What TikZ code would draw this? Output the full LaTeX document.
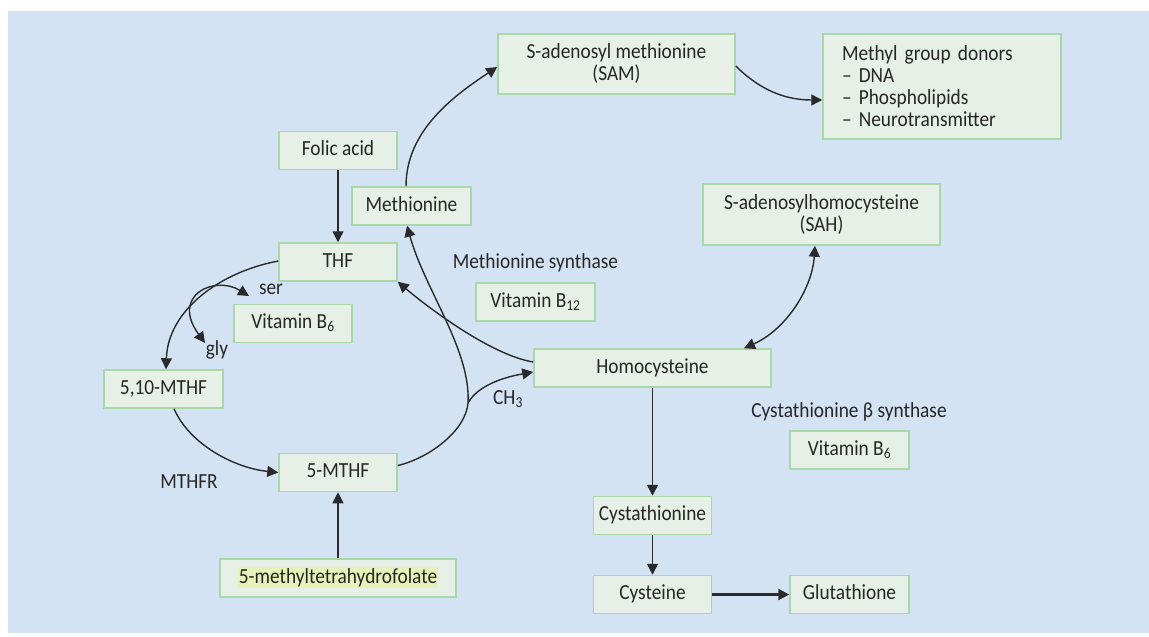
\documentclass[tikz,border=0pt]{standalone}
\usepackage{fontspec}
\setmainfont{Carlito}[FakeStretch=0.9]
\usetikzlibrary{arrows.meta}
\definecolor{bgblue}{HTML}{D4E3F3}
\definecolor{boxfill}{HTML}{E6F0E6}
\definecolor{boxline}{HTML}{A8D8A8}
\definecolor{txt}{HTML}{262626}
\definecolor{hlyellow}{HTML}{E8F2B8}
\definecolor{arrcol}{HTML}{2A2A2A}
\begin{document}
\begin{tikzpicture}[x=1pt,y=-1pt,
  font=\fontsize{21.5}{22}\selectfont,
  box/.style={draw=boxline, line width=1.5pt, fill=boxfill, inner sep=0pt, text=txt, align=center},
  one/.style={box, text height=15pt, text depth=4.5pt, minimum height=38pt},
  lab/.style={text=txt, inner sep=0pt},
  arr/.style={draw=arrcol, line width=1.4pt, -{Triangle[length=11pt,width=11pt]}},
  twoway/.style={draw=arrcol, line width=1.4pt, {Triangle[length=11pt,width=11pt]}-{Triangle[length=11pt,width=11pt]}}
]
\useasboundingbox (0,0) rectangle (1149,637);
\fill[white] (0,0) rectangle (1149,637);
\fill[bgblue] (8,11) rectangle (1149,633);

% boxes
\node[box, minimum width=237pt, minimum height=60pt] (sam) at (616.5,64) {S-adenosyl methionine\\(SAM)};
\node[box, align=left, text width=200pt, inner xsep=19pt, inner ysep=0pt, minimum height=105pt] (donors) at (942,86.5)
  {Methyl group donors\\– DNA\\– Phospholipids\\– Neurotransmitter};
\node[one, minimum width=118pt] (folic) at (338,150.5) {Folic acid};
\node[one, minimum width=119pt] (met) at (411.5,206) {Methionine};
\node[box, minimum width=237pt, minimum height=61pt] (sah) at (821.5,214.5) {S-adenosylhomocysteine\\(SAH)};
\node[one, minimum width=118pt] (thf) at (338,262) {THF};
\node[one, minimum width=119pt] (vbtwelve) at (535.5,302) {Vitamin B\textsubscript{12}};
\node[one, minimum width=118pt] (vbsixa) at (293,323.5) {Vitamin B\textsubscript{6}};
\node[one, minimum width=119pt] (mten) at (163.5,389) {5,10-MTHF};
\node[one, minimum width=237pt] (homo) at (652.5,368) {Homocysteine};
\node[one, minimum width=119pt] (vbsixb) at (849.5,450) {Vitamin B\textsubscript{6}};
\node[one, minimum width=118pt] (mfive) at (338,472.5) {5-MTHF};
\node[one, minimum width=118pt] (cysta) at (652.5,515.5) {Cystathionine};
\node[one, minimum width=236pt] (mthf) at (338,578) {{\setlength\fboxsep{1.2pt}\colorbox{hlyellow}{5-methyltetrahydrofolate}}};
\node[one, minimum width=118pt] (cys) at (652.5,594.5) {Cysteine};
\node[one, minimum width=119pt] (glu) at (849.5,594.5) {Glutathione};

% labels
\node[lab] (msyn) at (535.5,263) {Methionine synthase};
\node[lab] (ser) at (271,289) {ser};
\node[lab] (gly) at (217,350) {gly};
\node[lab] (chthree) at (508,399) {CH\textsubscript{3}};
\node[lab] (mthfr) at (189,482) {MTHFR};
\node[lab] (cbs) at (849,412) {Cystathionine β synthase};

% coordinates
\coordinate (fork) at (468,403);
\coordinate (sertip) at (249,296);
\coordinate (glytip) at (205,343);

% connectors
\draw[arr] (folic) -- (thf);
\draw[arr] ([xshift=-5.5pt]met.north) .. controls (406,130) and (455,95) .. ([yshift=-3pt]sam.west);
\draw[arr] ([yshift=-2pt]sam.east) .. controls (760,90) and (785,100) .. ([yshift=-13.5pt]donors.west);
\draw[twoway] ([xshift=91.5pt]homo.north) .. controls (785,330) and (812,290) .. ([xshift=-6.5pt]sah.south);
\draw[arr] (homo.south) -- (cysta.north);
\draw[arr] (cysta) -- (cys);
\draw[arr, line width=2.2pt] (cys) -- (glu);
\draw[arr] (mthf) -- (mfive);
\draw[arr] ([yshift=1pt]thf.west) .. controls (220,272) and (168,310) .. ([xshift=2.5pt]mten.north);
\draw[twoway] (sertip) .. controls (215,275) and (170,295) .. (glytip);
\draw[arr] ([xshift=10.5pt]mten.south) .. controls (190,445) and (235,468) .. (mfive.west);
\draw[arr] ([yshift=7pt]mfive.east) .. controls (430,458) and (466,430) .. (fork)
  .. controls (471,350) and (425,290) .. ([xshift=-4.5pt]met.south);
\draw[arr] (fork) .. controls (478,385) and (505,377) .. ([yshift=-4pt]homo.west);
\draw[arr] ([yshift=6pt]homo.west) .. controls (490,355) and (425,305) .. (thf.south east);
\end{tikzpicture}
\end{document}
